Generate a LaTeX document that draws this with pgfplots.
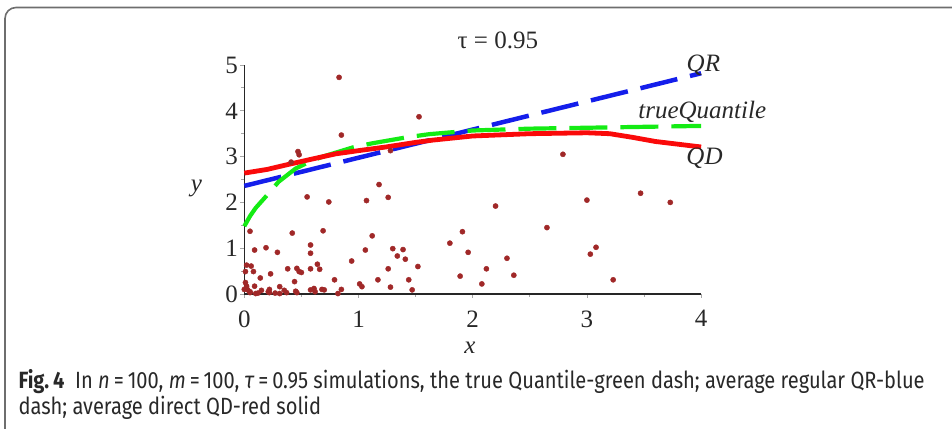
\documentclass[border=0pt]{standalone}
\usepackage{fontspec}
\setmainfont{Liberation Serif}
\newfontfamily\capfont{Fira Sans}[FakeStretch=0.855]
\usepackage{pgfplots}
\pgfplotsset{compat=1.18}
\definecolor{ptred}{RGB}{160,40,40}
\definecolor{qrblue}{RGB}{20,30,235}
\definecolor{tqgreen}{RGB}{20,235,20}
\definecolor{qdred}{RGB}{250,10,10}
\definecolor{framegray}{RGB}{110,110,110}
\definecolor{txt}{RGB}{40,40,40}

\pgfplotstableread{
x y
0.05 1.37
0.09 0.96
0.19 1.01
0.29 0.91
0.42 1.33
0.55 2.12
0.74 2.01
0.69 1.38
0.58 1.07
0.58 0.89
0.02 0.63
0.06 0.61
0.08 0.49
0.01 0.49
0.14 0.35
0.23 0.44
0.38 0.55
0.46 0.56
0.48 0.49
0.50 0.47
0.58 0.55
0.64 0.65
0.66 0.54
0.44 0.27
0.02 0.17
0.09 0.17
0.05 0.05
0.21 0.05
0.31 0.16
0.31 0.01
0.37 0.03
0.46 0.03
0.61 0.12
0.62 0.05
0.70 0.09
0.79 0.31
0.82 0.01
0.85 0.10
0.94 0.72
1.01 0.22
1.03 0.16
1.06 0.96
1.07 2.04
1.12 1.27
1.18 2.39
1.26 2.11
1.17 0.31
1.26 0.55
1.28 0.15
1.30 0.99
1.34 0.83
1.39 0.97
1.41 0.76
1.44 0.31
1.47 0.09
1.52 0.60
1.80 1.11
1.91 1.36
1.89 0.39
1.96 0.91
2.08 0.22
2.12 0.55
2.20 1.92
2.30 0.78
2.36 0.41
2.65 1.45
2.79 3.05
3.00 2.05
3.03 0.87
3.08 1.02
3.23 0.31
3.47 2.20
3.73 2.00
0.83 4.73
0.85 3.47
1.53 3.87
0.47 3.11
0.48 3.04
0.41 2.88
1.28 3.13
0.03 0.09
0.22 0.10
0.35 0.08
0.45 0.06
0.58 0.09
0.68 0.10
0.22 0.03
0.05 0.03
0.10 0.01
0.27 0.02
0.01 0.25
0.00 0.10
0.12 0.02
0.15 0.08
}\simdata

\begin{document}
\begin{tikzpicture}[x=1pt,y=1pt]
\path[use as bounding box] (0,0) rectangle (952,428);
\draw[framegray, line width=1.6pt, rounded corners=11pt] (5,-10) -- (5,420.5) -- (970,420.5);
\begin{axis}[
    at={(244.3pt,134pt)}, anchor=south west,
    scale only axis, width=456.8pt, height=229pt,
    xmin=0, xmax=4, ymin=0, ymax=5,
    xtick={0,1,2,3,4}, ytick={0,1,2,3,4,5},
    minor tick num=1,
    axis x line=bottom, axis y line=left,
    axis line style={-, line width=1.6pt, black!85},
    tick align=outside, major tick length=4pt, minor tick length=3pt,
    tick style={black!35, line width=0.8pt},
    font=\fontsize{25}{30}\selectfont,
    /pgf/number format/assume math mode=true,
    ticklabel style={text=txt},
    xticklabel style={yshift=-9pt},
    yticklabel style={xshift=1pt},
    xlabel={\itshape x}, ylabel={\itshape y},
    xlabel style={at={(axis description cs:0.494,0)}, anchor=center, yshift=-54pt, text=txt},
    ylabel style={rotate=-90, at={(axis description cs:0,0.463)}, anchor=center, xshift=-48pt, text=txt},
    clip=false,
]
  \addplot[only marks, mark=*, mark size=2.6pt, color=ptred] table[x=x,y=y] {\simdata};
  \addplot[qrblue, line width=4.5pt, dash pattern=on 38pt off 13pt] coordinates {(0,2.36) (4,4.82)};
  \addplot[tqgreen, line width=4.2pt, dash pattern=on 38pt off 13pt] coordinates {
    (0,1.48) (0.05,1.70) (0.1,1.88) (0.2,2.16) (0.3,2.45) (0.45,2.74) (0.6,2.92)
    (0.7,3.01) (0.95,3.20) (1.12,3.29) (1.42,3.42) (1.62,3.49) (2,3.57) (2.5,3.61)
    (3,3.63) (3.5,3.65) (4,3.67)};
  \addplot[qdred, line width=4.8pt] coordinates {
    (0,2.64) (0.2,2.72) (0.37,2.82) (0.6,2.95) (0.8,3.06) (1.0,3.13) (1.24,3.21)
    (1.5,3.31) (1.65,3.36) (2,3.45) (2.5,3.50) (3.0,3.52) (3.2,3.50) (3.4,3.42)
    (3.6,3.33) (3.8,3.27) (4,3.21)};
  \node[text=txt] at (axis cs:4.02,5.0) {\itshape QR};
  \node[text=txt] at (axis cs:4.01,3.97) {\itshape trueQuantile};
  \node[text=txt] at (axis cs:4.03,2.97) {\itshape QD};
  \node[text=txt] at (rel axis cs:0.555,1) [yshift=25pt] {τ = 0.95};
\end{axis}
\node[anchor=base west, font=\capfont\fontsize{23.5}{28}\selectfont, text=txt] at (15,39)
  {{\bfseries Fig.\,4}\ \ In \textit{n}\,=\,100, \textit{m}\,=\,100, \textit{τ}\,=\,0.95 simulations, the true Quantile-green dash; average regular QR-blue};
\node[anchor=base west, font=\capfont\fontsize{23.5}{28}\selectfont, text=txt] at (15,14)
  {dash; average direct QD-red solid};
\end{tikzpicture}
\end{document}
